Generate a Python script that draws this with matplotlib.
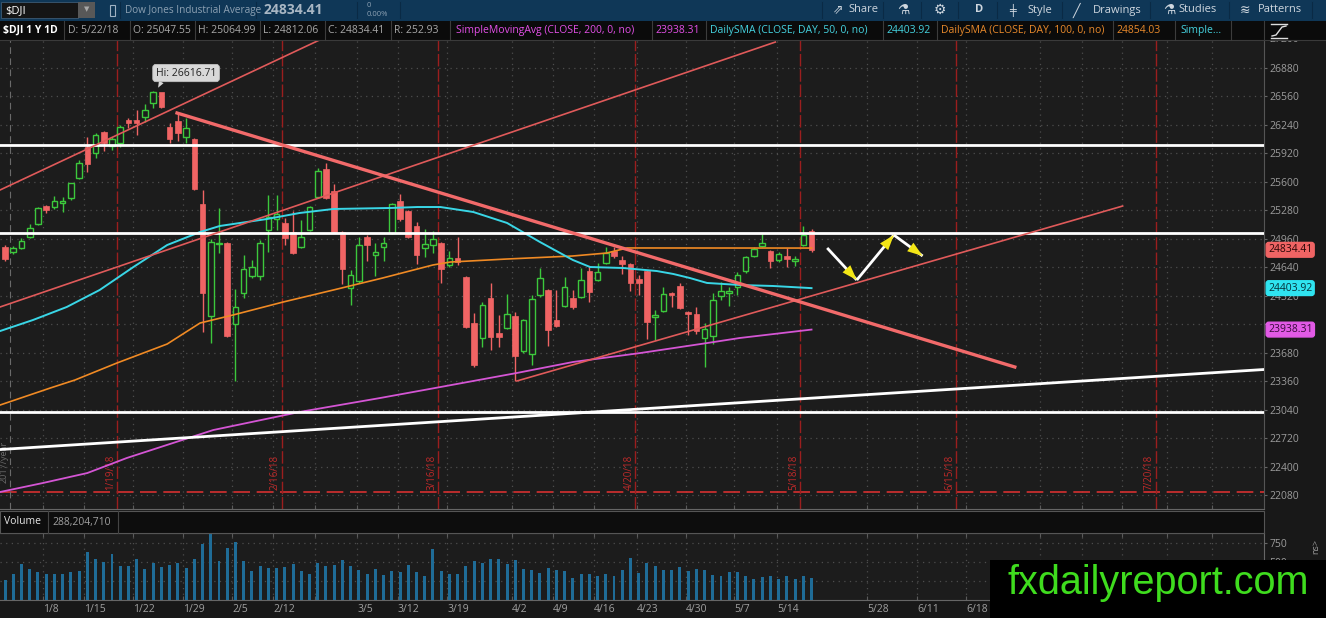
import numpy as np
import matplotlib
matplotlib.use("Agg")
import matplotlib.pyplot as plt
from matplotlib.patches import Rectangle
from matplotlib.transforms import blended_transform_factory

plt.rcParams['font.family'] = ['Open Sans', 'DejaVu Sans']

# ---------------- data ----------------
opens = [24866, 24810, 24855, 24978, 25124, 25326, 25315, 25360, 25416, 25641,
         25989, 25922, 26158, 26001, 26034, 26293, 26293, 26326, 26484, 26607,
         26214, 26281, 26102, 26079, 25349, 24091, 24900, 24911, 24001, 24349,
         24540, 24540, 25057, 25180, 25136, 25034, 24866, 25057, 25428, 25742,
         25495, 25034, 24405, 24484, 24978, 24776, 24866, 25023, 25383, 25270,
         25102, 24855, 24888, 24911, 24664, 24742, 24529, 24012, 23844, 24293,
         23900, 23956, 24091, 23698, 23664, 24327, 24383, 24046, 24203, 24293,
         24304, 24596, 24495, 24686, 24821, 24720, 24675, 24506, 24596, 24080,
         24147, 24349, 24428, 24136, 24113, 23844, 23866, 24315, 24349, 24417,
         24596, 24765, 24877, 24821, 24720, 24765, 24709, 24888, 25047.55]
highs = [24888, 24877, 24967, 25124, 25315, 25338, 25439, 25428, 25590, 25843,
         26102, 26147, 26169, 26102, 26236, 26315, 26405, 26472, 26617, 26600,
         26259, 26360, 26315, 26090, 25506, 24956, 25304, 24922, 24394, 24776,
         24720, 24945, 25450, 25450, 25192, 25270, 25169, 25326, 25753, 25810,
         25574, 25045, 24608, 24978, 25001, 24911, 24978, 25360, 25461, 25282,
         25147, 25068, 25046, 24922, 24821, 24978, 24540, 24125, 24248, 24462,
         24102, 24338, 24136, 24057, 24327, 24630, 24394, 24383, 24529, 24383,
         24630, 24652, 24686, 24866, 24866, 24765, 24686, 24551, 24607, 24158,
         24417, 24360, 24462, 24147, 24192, 24012, 24349, 24473, 24417, 24585,
         24765, 24866, 25012, 24832, 24810, 24855, 24765, 25102, 25064.99]
lows = [24709, 24787, 24843, 24967, 25113, 25248, 25293, 25259, 25394, 25630,
        25708, 25866, 25944, 25955, 25989, 26203, 26124, 26270, 26427, 26427,
        26034, 26057, 26034, 25506, 23911, 23787, 24798, 23855, 23361, 24293,
        24518, 24495, 24810, 25057, 24888, 24790, 24855, 25046, 25416, 25405,
        25023, 24450, 24215, 24462, 24709, 24540, 24709, 25012, 25158, 24967,
        24675, 24754, 24798, 24462, 24641, 24664, 23956, 23518, 23742, 23709,
        23742, 23945, 23361, 23676, 23540, 24304, 23754, 23967, 24192, 24170,
        24293, 24248, 24484, 24675, 24742, 24563, 24372, 24327, 23832, 23821,
        24136, 24192, 24170, 23877, 23889, 23518, 23776, 24271, 24203, 24327,
        24574, 24754, 24866, 24630, 24697, 24641, 24652, 24877, 24812.06]
closes = [24731, 24855, 24933, 25079, 25304, 25282, 25383, 25383, 25585, 25810,
          25798, 26124, 26034, 26079, 26214, 26259, 26259, 26405, 26607, 26439,
          26079, 26147, 26203, 25518, 24349, 24922, 24911, 23866, 24192, 24619,
          24641, 24911, 25203, 25237, 24967, 24798, 24978, 25315, 25720, 25416,
          25034, 24619, 24551, 24888, 24888, 24810, 24911, 25349, 25180, 24978,
          24776, 24900, 24956, 24619, 24742, 24697, 23967, 23540, 24215, 23855,
          23855, 24113, 23642, 24046, 24282, 24518, 23934, 23979, 24417, 24192,
          24495, 24360, 24585, 24798, 24765, 24675, 24462, 24462, 24023, 24102,
          24338, 24327, 24181, 24113, 23922, 23945, 24271, 24372, 24372, 24551,
          24754, 24843, 24911, 24709, 24787, 24731, 24731, 25001, 24834.41]
volumes_m = [263, 342, 474, 408, 364, 342, 342, 342, 360, 382,
             627, 539, 496, 605, 447, 447, 539, 408, 482, 434,
             460, 482, 421, 535, 732, 855, 513, 684, 759, 513,
             382, 447, 421, 421, 434, 469, 382, 342, 482, 447,
             460, 526, 447, 395, 342, 408, 329, 382, 368, 460,
             368, 316, 671, 382, 342, 342, 447, 504, 487, 539,
             539, 469, 526, 408, 395, 351, 412, 395, 382, 289,
             342, 342, 307, 342, 307, 395, 553, 351, 487, 447,
             395, 395, 425, 382, 404, 395, 329, 316, 360, 368,
             307, 276, 294, 307, 276, 316, 276, 316, 289]

sma50_x = [-0.6, 3.4, 7.5, 11.5, 15.6, 19.7, 23.7, 26.1, 31.8, 35.8, 39.9, 46.8, 50.1, 52.9,
           56.9, 61.0, 65.0, 69.0, 71.1, 75.1, 79.2, 81.2, 83.2, 85.3, 89.3, 93.3, 98]
sma50_v = [23922, 24046, 24192, 24383, 24641, 24888, 25034, 25102, 25180, 25248, 25293, 25304, 25315, 25315,
           25259, 25136, 24922, 24720, 24641, 24630, 24596, 24563, 24518, 24462, 24439, 24428, 24403.92]
sma100_x = [-0.6, 5.5, 8.5, 13.6, 19.7, 23.7, 27.7, 33.8, 39.9, 45.9, 52.0, 54.1, 61.0, 69.0, 73.1, 75.6, 98]
sma100_v = [23091, 23282, 23372, 23563, 23776, 24012, 24102, 24248, 24383, 24518, 24664, 24697, 24731,
            24765, 24798, 24855, 24854.03]
sma200_x = [-0.6, 4.6, 10.0, 14.8, 20.4, 25.3, 35.8, 45.6, 52.9, 62.2, 69.0, 77.2, 85.3, 89.3, 98]
sma200_v = [22114, 22215, 22327, 22496, 22664, 22810, 23013, 23170, 23293, 23451, 23574, 23675, 23787,
            23844, 23938.31]

# drawings
chan_upper_x, chan_upper_p = [-0.61, 39.5], [25506, 27247]
chan_mid_x, chan_mid_p = [-0.61, 93.6], [24192, 27168]
support_x, support_p = [62.2, 135.8], [23361, 25326]
resist_x, resist_p = [20.9, 122.7], [26371, 23518]
white_levels = [26010, 25020, 23016]
white_rise_x, white_rise_p = [-0.61, 153.0], [22591, 23490]
path_x = [99.9, 103.5, 108.0, 111.5]
path_p = [24855, 24495, 25001, 24765]
dividend_level = 22114

expiry_x = [13.6, 33.6, 52.6, 76.6, 96.6, 115.6, 139.8]
expiry_labels = ["1/19/18", "2/16/18", "3/16/18", "4/20/18", "5/18/18", "6/15/18", "7/20/18"]

week_ticks = [4.62, 9.60, 15.55, 21.63, 27.58, 32.56, 37.7, 42.77, 47.75, 53.71, 61.60, 66.59,
              71.57, 76.79, 82.75, 88.58, 93.80, 104.74, 110.81, 116.77, 125.8, 130.9, 135.7, 141.2, 146.7]
week_labels = ["1/8", "1/15", "1/22", "1/29", "2/5", "2/12", "", "3/5", "3/12", "3/19", "4/2", "4/9",
               "4/16", "4/23", "4/30", "5/7", "5/14", "5/28", "6/11", "6/18", "", "", "", "", ""]
price_ticks = [22080, 22400, 22720, 23040, 23360, 23680, 24000, 24320, 24640, 24960,
               25280, 25600, 25920, 26240, 26560, 26880]
price_labels = ["22080", "22400", "22720", "23040", "23360", "23680", "", "24320", "24640", "24960",
                "25280", "25600", "25920", "26240", "26560", "26880"]
vol_ticks = [250, 500, 750]
vol_labels = ["", "500", "750"]

# ---------------- style ----------------
W, H = 1326, 618
BG = '#1c1c1c'
GREEN = '#3cc83c'
RED = '#f06464'
GRID = '#4d4d4d'
XL = (-0.61, 152.98)

fig = plt.figure(figsize=(W / 100, H / 100), dpi=100)
fig.patch.set_facecolor('#181818')


def add_ax(x0, y0, x1, y1, **kw):
    return fig.add_axes([x0 / W, 1 - y1 / H, (x1 - x0) / W, (y1 - y0) / H], **kw)


# ---------------- price panel ----------------
ax = add_ax(0, 40, 1264, 509)
ax.set_facecolor(BG)
ax.set_xlim(*XL)
ax.set_ylim(21923, 27191)
ax.set_xticks(week_ticks)
ax.set_yticks(price_ticks)
ax.yaxis.tick_right()
ax.set_yticklabels(price_labels)
ax.tick_params(axis='y', colors='#666666', labelcolor='#9c9c9c', labelsize=7.5,
               length=2.2, pad=1.5, direction='out')
ax.tick_params(axis='x', direction='in', length=3, color='#5a5a5a', labelbottom=False)
ax.grid(True, color=GRID, linestyle=(0, (1, 3.5)), linewidth=0.9)
ax.set_axisbelow(True)
for s in ['left', 'top']:
    ax.spines[s].set_visible(False)
ax.spines['right'].set_color('#555555')
ax.spines['bottom'].set_color('#666666')

o = np.array(opens, float)
h = np.array(highs, float)
l = np.array(lows, float)
c = np.array(closes, float)
idx = np.arange(len(o))
up = c >= o

ax.vlines(idx[up], l[up], h[up], color=GREEN, lw=1, zorder=3)
ax.vlines(idx[~up], l[~up], h[~up], color=RED, lw=1, zorder=3)
ax.bar(idx[up], np.maximum(c[up] - o[up], 8), bottom=o[up], width=0.68,
       facecolor=BG, edgecolor=GREEN, linewidth=1, zorder=4)
ax.bar(idx[~up], np.maximum(o[~up] - c[~up], 8), bottom=c[~up], width=0.68,
       facecolor=RED, edgecolor=RED, linewidth=0.5, zorder=4)

ax.plot(sma200_x, sma200_v, color='#d455d4', lw=1.3, zorder=5)
ax.plot(sma100_x, sma100_v, color='#f08a24', lw=1.2, zorder=5)
ax.plot(sma50_x, sma50_v, color='#39d6e6', lw=1.4, zorder=5)

# markers
ax.axhline(dividend_level, color='#d63030', lw=1.2, ls=(0, (10, 4)), zorder=2)
ax.axvline(0.6, color='#6a6a6a', lw=0.8, ls=(0, (6, 4)), zorder=2)
ax.text(-0.15, 22450, '2017/year', rotation=90, ha='center', va='center',
        fontsize=6.5, color='#6a6a6a', zorder=2)
for xv, lab in zip(expiry_x, expiry_labels):
    ax.axvline(xv, color='#9b1e1e', lw=1, ls=(0, (9, 2)), zorder=2)
    ax.text(xv - 0.75, 22140, lab, rotation=90, ha='center', va='bottom',
            fontsize=7, color='#c02a2a', zorder=2)

# drawings
for yv in white_levels:
    ax.axhline(yv, color='white', lw=2, zorder=6)
ax.plot(white_rise_x, white_rise_p, color='white', lw=2, zorder=6)
ax.plot(chan_upper_x, chan_upper_p, color='#e05a5a', lw=1.2, zorder=6)
ax.plot(chan_mid_x, chan_mid_p, color='#e05a5a', lw=1.2, zorder=6)
ax.plot(support_x, support_p, color='#e05a5a', lw=1.2, zorder=6)
ax.plot(resist_x, resist_p, color='#f26a6a', lw=2.4, zorder=6)

for i in range(len(path_x) - 1):
    x0, y0, x1, y1 = path_x[i], path_p[i], path_x[i + 1], path_p[i + 1]
    ax.plot([x0, x1], [y0, y1], color='white', lw=2, zorder=7, solid_capstyle='butt')
    ax.annotate('', xy=(x1, y1), xytext=(x0, y0), zorder=8,
                arrowprops=dict(arrowstyle='-|>,head_length=1.1,head_width=0.38',
                                fc='#f3e616', ec='#f3e616', lw=0, shrinkA=0, shrinkB=0))

# Hi callout
ax.annotate('Hi: 26616.71', xy=(18.6, 26655), xytext=(22.0, 26820), ha='center', va='center',
            fontsize=7.5, color='#222222', zorder=9,
            bbox=dict(boxstyle='round,pad=0.3,rounding_size=0.3', fc='#d8d8d8', ec='#c0c0c0', lw=0.6),
            arrowprops=dict(arrowstyle='wedge,tail_width=0.5,shrink_factor=0.5', fc='#d8d8d8',
                            ec='none', relpos=(0.12, 0.0), shrinkA=0, shrinkB=0))

# right-axis tags
bt = blended_transform_factory(ax.transAxes, ax.transData)
ax.text(1.0040, 27200, '27200', transform=bt, va='center', ha='left', fontsize=7.5,
        color='#9c9c9c', clip_on=False)
for val, fc, tc in [(24834.41, '#f06464', '#2a0606'), (24403.92, '#2fe4f0', '#063038'),
                    (23938.31, '#e25ae6', '#3a0a3c')]:
    ax.text(1.0032, val, f'{val:.2f}', transform=bt, va='center', ha='left', fontsize=7.5,
            color=tc, clip_on=False, zorder=10,
            bbox=dict(boxstyle='round,pad=0.18,rounding_size=0.25', fc=fc, ec=fc))

# ---------------- volume panel ----------------
axv = add_ax(0, 533, 1264, 600)
axv.set_facecolor(BG)
axv.set_xlim(*XL)
axv.set_ylim(0, 874)
axv.bar(np.arange(len(volumes_m)), volumes_m, width=0.36, color='#1f6c97', zorder=3)
axv.set_xticks(week_ticks)
axv.set_xticklabels(week_labels)
axv.set_yticks(vol_ticks)
axv.yaxis.tick_right()
axv.set_yticklabels(vol_labels)
axv.tick_params(axis='y', colors='#666666', labelcolor='#9c9c9c', labelsize=7.5,
                length=2.2, pad=1.5, direction='out')
axv.tick_params(axis='x', direction='in', length=3, color='#5a5a5a', labelsize=7.5,
                labelcolor='#a0a0a0', pad=3, top=True)
for lbl in axv.get_xticklabels():
    lbl.set_horizontalalignment('left')
axv.grid(True, color=GRID, linestyle=(0, (1, 3.5)), linewidth=0.9)
axv.set_axisbelow(True)
axv.spines['left'].set_visible(False)
for s in ['right', 'top', 'bottom']:
    axv.spines[s].set_color('#666666')

# ---------------- overlay chrome ----------------
ov = fig.add_axes([0, 0, 1, 1], zorder=20)
ov.set_xlim(0, W)
ov.set_ylim(H, 0)
ov.axis('off')
ov.patch.set_visible(False)

# toolbar
ov.add_patch(Rectangle((0, 0), W, 20.5, fc='#0f3757', ec='none'))
ov.add_patch(Rectangle((1, 2), 77, 16, fc='#151515', ec='#3d5a74', lw=0.6))
ov.text(5, 10.5, '$DJI', color='white', fontsize=8, va='center')
ov.add_patch(Rectangle((78, 2), 17, 16, fc='#585858', ec='none'))
ov.text(86.5, 10, '▼', fontsize=5, color='#a8a8a8', ha='center', va='center')
ov.add_patch(Rectangle((109.5, 4.5), 5, 11, fc='none', ec='#9fb2c4', lw=0.8))
ov.text(125, 10, 'Dow Jones Industrial Average', color='#8da1b3', fontsize=7.2, va='center')
ov.text(264, 10, '24834.41', color='#a8b6c3', fontsize=10, fontweight='bold', va='center')
ov.text(367, 5.5, '0', color='#8da1b3', fontsize=5.5, va='center')
ov.text(367, 14, '0.00%', color='#8da1b3', fontsize=5.5, va='center')
for xs in [120, 256, 357, 400, 822, 883, 921, 958, 997, 1062, 1150, 1229, 1312]:
    ov.plot([xs, xs], [2, 18], color='#0a2a45', lw=0.8)
tb = '#cfd7df'
for xx, tx, fs in [(833, '⇗', 9), (848, 'Share', 8), (897, '⚗', 10), (934, '⚙', 10),
                   (975, 'D', 8), (1009, '╪', 8), (1027, 'Style', 8), (1073, '╱', 9),
                   (1093, 'Drawings', 8), (1163, '⚗', 10), (1178, 'Studies', 8),
                   (1240, '≋', 9), (1258, 'Patterns', 8)]:
    ov.text(xx, 10, tx, color=tb, fontsize=fs, va='center',
            fontweight='bold' if tx == 'D' else 'normal')

# info bar
ov.add_patch(Rectangle((0, 20.5), W, 19.5, fc='#0b0b0b', ec='none'))
ov.plot([0, W], [40, 40], color='#3a3a3a', lw=0.8)
gray = '#a8a8a8'
info = [(3, '$DJI 1 Y 1D', 'white', 'bold'), (68, 'D: 5/22/18', gray, 'normal'),
        (133, 'O: 25047.55', gray, 'normal'), (198, 'H: 25064.99', gray, 'normal'),
        (263, 'L: 24812.06', gray, 'normal'), (328, 'C: 24834.41', gray, 'normal'),
        (394, 'R: 252.93', gray, 'normal'),
        (456, 'SimpleMovingAvg (CLOSE, 200, 0, no)', '#e24fe6', 'normal'),
        (655, '23938.31', '#e24fe6', 'normal'),
        (710, 'DailySMA (CLOSE, DAY, 50, 0, no)', '#45d3e0', 'normal'),
        (886, '24403.92', '#45d3e0', 'normal'),
        (941, 'DailySMA (CLOSE, DAY, 100, 0, no)', '#e8892b', 'normal'),
        (1116, '24854.03', '#e8892b', 'normal'), (1180, 'Simple...', '#45d3e0', 'normal')]
for xx, tx, col, fw in info:
    ov.text(xx, 30.5, tx, color=col, fontsize=7.5, va='center', fontweight=fw)
for xs in [64, 130, 195, 260, 325, 391, 450, 652, 706, 883, 937, 1113, 1175, 1231, 1264]:
    ov.plot([xs, xs], [21, 40], color='#3c3c3c', lw=0.8)
# S-curve icon
ov.plot([1271, 1287], [24, 24], color='#dddddd', lw=1)
ov.plot([1271, 1287], [38, 38], color='#dddddd', lw=1)
ov.plot([1272, 1276, 1279, 1282, 1286], [36, 35, 31, 27, 26], color='#dddddd', lw=1)

# volume header
ov.add_patch(Rectangle((0, 511), 1264, 22, fc='#0d0d0d', ec='#555555', lw=0.8))
ov.text(4, 522, 'Volume', color='#e6e6e6', fontsize=7.5, va='center')
ov.plot([48, 48], [511, 533], color='#444444', lw=0.8)
ov.text(52, 522, '288,204,710', color='#a0a0a0', fontsize=7.5, va='center')
ov.plot([118, 118], [511, 533], color='#444444', lw=0.8)
ov.text(1316, 546, 'ns>', rotation=90, color='#9a9a9a', fontsize=6.5, ha='center', va='center')

# watermark
ov.add_patch(Rectangle((990, 560), W - 990, H - 560, fc='black', ec='none'))
ov.text(1158, 594, 'fxdailyreport.com', color='#3fdc1e', fontsize=28.5, ha='center',
        va='baseline', family=['Liberation Sans', 'DejaVu Sans'])

fig.savefig('out.png', dpi=100, facecolor=fig.get_facecolor())
